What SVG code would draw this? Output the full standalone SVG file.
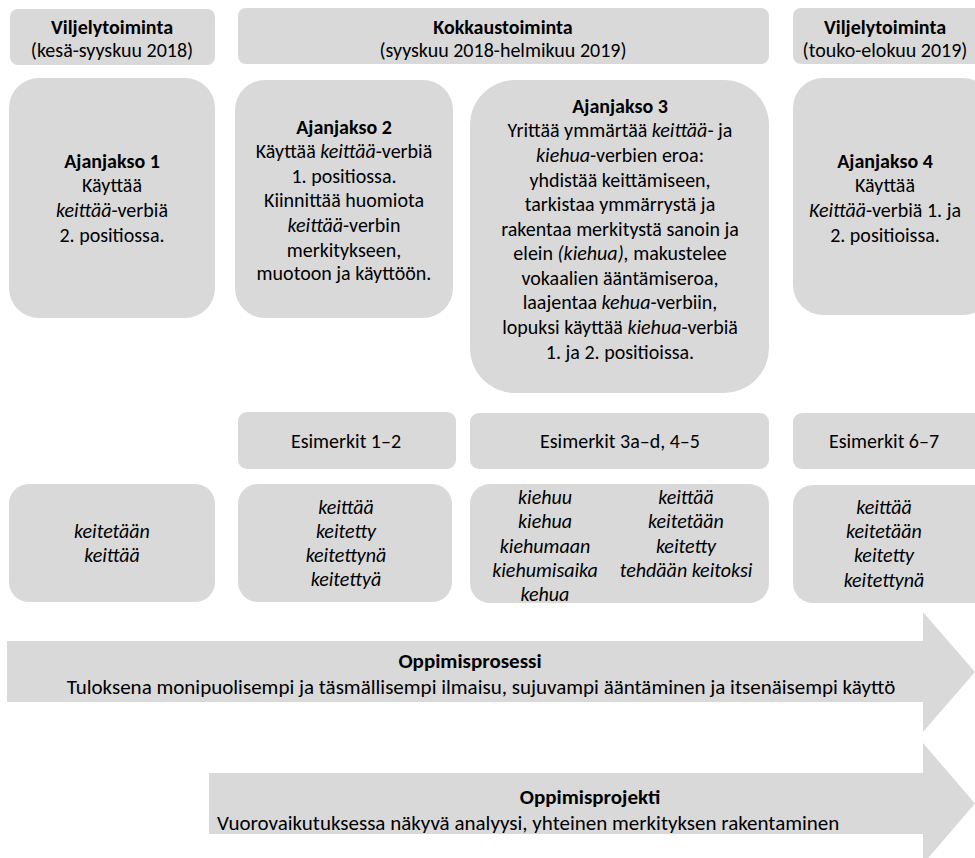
<svg xmlns="http://www.w3.org/2000/svg" width="975" height="858" viewBox="0 0 975 858">
<style>
.b{fill:#d9d9d9}
text{font-family:Carlito,Lato,"Open Sans",sans-serif;font-size:20px;fill:#000;text-anchor:middle}
.h{font-weight:bold}
.i{font-style:italic}
.l{text-anchor:start}
.a{font-size:21px}
</style>
<g id="connectors"></g>
<g id="top1"><rect class="b" x="10" y="9" width="205" height="56" rx="8"/>
<text x="112" y="34" class="h">Viljelytoiminta</text><text x="112" y="57">(kesä-syyskuu 2018)</text></g>
<g id="top2"><rect class="b" x="238" y="8" width="531" height="56" rx="8"/>
<text x="503" y="34" class="h">Kokkaustoiminta</text><text x="503" y="57">(syyskuu 2018-helmikuu 2019)</text></g>
<g id="top3"><rect class="b" x="793" y="8" width="200" height="56" rx="8"/>
<text x="885" y="34" class="h">Viljelytoiminta</text><text x="885" y="57">(touko-elokuu 2019)</text></g>

<g id="ajanjakso1"><rect class="b" x="9" y="78" width="206" height="240" rx="30"/>
<text x="112" y="168" class="h">Ajanjakso 1</text>
<text x="112" y="192">Käyttää</text>
<text x="112" y="217"><tspan class="i">keittää</tspan>-verbiä</text>
<text x="112" y="242">2. positiossa.</text></g>

<g id="ajanjakso2"><rect class="b" x="235" y="80" width="218" height="238" rx="30"/>
<text x="344" y="134" class="h">Ajanjakso 2</text>
<text x="344" y="158">Käyttää <tspan class="i">keittää</tspan>-verbiä</text>
<text x="344" y="183">1. positiossa.</text>
<text x="344" y="207">Kiinnittää huomiota</text>
<text x="344" y="232"><tspan class="i">keittää</tspan>-verbin</text>
<text x="344" y="257">merkitykseen,</text>
<text x="344" y="280">muotoon ja käyttöön.</text></g>

<g id="ajanjakso3"><rect class="b" x="470" y="80" width="299" height="313" rx="45"/>
<text x="620" y="113" class="h">Ajanjakso 3</text>
<text x="620" y="137">Yrittää ymmärtää <tspan class="i">keittää</tspan>- ja</text>
<text x="620" y="162"><tspan class="i">kiehua</tspan>-verbien eroa:</text>
<text x="620" y="187">yhdistää keittämiseen,</text>
<text x="620" y="211">tarkistaa ymmärrystä ja</text>
<text x="620" y="236">rakentaa merkitystä sanoin ja</text>
<text x="620" y="260">elein <tspan class="i">(kiehua),</tspan> makustelee</text>
<text x="620" y="285">vokaalien ääntämiseroa,</text>
<text x="620" y="309">laajentaa <tspan class="i">kehua</tspan>-verbiin,</text>
<text x="620" y="334">lopuksi käyttää <tspan class="i">kiehua</tspan>-verbiä</text>
<text x="620" y="359">1. ja 2. positioissa.</text></g>

<g id="ajanjakso4"><rect class="b" x="793" y="78" width="200" height="237" rx="30"/>
<text x="885" y="168" class="h">Ajanjakso 4</text>
<text x="885" y="192">Käyttää</text>
<text x="885" y="217"><tspan class="i">Keittää</tspan>-verbiä 1. ja</text>
<text x="885" y="242">2. positioissa.</text></g>

<g id="esim1"><rect class="b" x="238" y="412" width="218" height="57" rx="9"/>
<text x="346" y="448">Esimerkit 1–2</text></g>
<g id="esim2"><rect class="b" x="470" y="413" width="299" height="56" rx="9"/>
<text x="620" y="448">Esimerkit 3a–d, 4–5</text></g>
<g id="esim3"><rect class="b" x="793" y="413" width="200" height="56" rx="9"/>
<text x="884" y="448">Esimerkit 6–7</text></g>

<g id="words1"><rect class="b" x="9" y="484" width="206" height="118" rx="20"/>
<text x="112" y="538" class="i">keitetään</text>
<text x="112" y="562" class="i">keittää</text></g>
<g id="words2"><rect class="b" x="238" y="484" width="214" height="118" rx="20"/>
<text x="346" y="514" class="i">keittää</text>
<text x="346" y="538" class="i">keitetty</text>
<text x="346" y="562" class="i">keitettynä</text>
<text x="346" y="586" class="i">keitettyä</text></g>
<g id="words3"><rect class="b" x="470" y="484" width="299" height="119" rx="20"/>
<text x="545" y="504" class="i">kiehuu</text>
<text x="545" y="528" class="i">kiehua</text>
<text x="545" y="553" class="i">kiehumaan</text>
<text x="545" y="577" class="i">kiehumisaika</text>
<text x="545" y="601" class="i">kehua</text>
<text x="686" y="504" class="i">keittää</text>
<text x="686" y="528" class="i">keitetään</text>
<text x="686" y="553" class="i">keitetty</text>
<text x="686" y="577" class="i">tehdään keitoksi</text></g>
<g id="words4"><rect class="b" x="793" y="485" width="200" height="118" rx="20"/>
<text x="884" y="514" class="i">keittää</text>
<text x="884" y="538" class="i">keitetään</text>
<text x="884" y="562" class="i">keitetty</text>
<text x="884" y="587" class="i">keitettynä</text></g>

<g id="oppimisprosessi"><path class="b" d="M7,641 H923 V612 L975,672 L923,732 V702 H7 Z"/>
<text x="470" y="668" class="h a">Oppimisprosessi</text>
<text x="481" y="694" class="a">Tuloksena monipuolisempi ja täsmällisempi ilmaisu, sujuvampi ääntäminen ja itsenäisempi käyttö</text></g>

<g id="oppimisprojekti"><path class="b" d="M209,773 H923 V743 L975,803.5 L923,864 V834 H209 Z"/>
<text x="590" y="804" class="h a">Oppimisprojekti</text>
<text x="217" y="830" class="l a">Vuorovaikutuksessa näkyvä analyysi, yhteinen merkityksen rakentaminen</text></g>
</svg>
